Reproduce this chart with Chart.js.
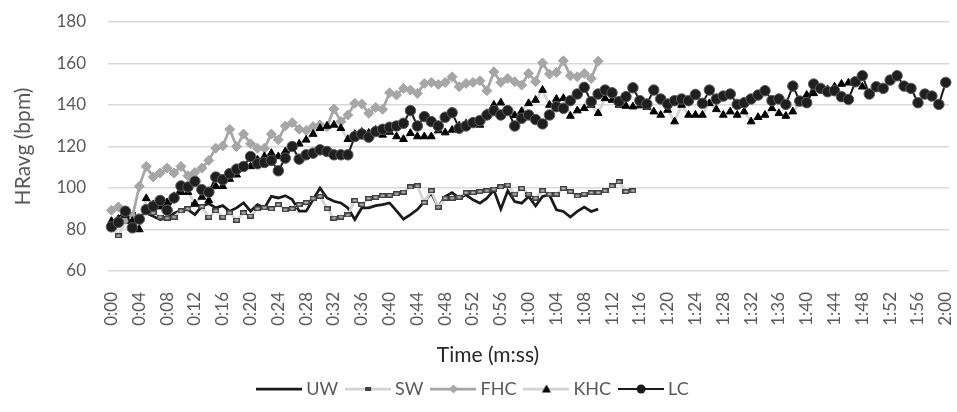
<!DOCTYPE html>
<html>
<head>
<meta charset="utf-8">
<script src="https://cdn.jsdelivr.net/npm/chart.js@4.4.1/dist/chart.umd.min.js"></script>
<style>
  html, body { margin: 0; padding: 0; background: #ffffff; }
  #wrap { width: 957px; height: 412px; }
</style>
</head>
<body>
<div id="wrap"><canvas id="chart" width="957" height="412"></canvas></div>
<script>
// Elapsed seconds 0..120, shown as m:ss
const seconds = Array.from({ length: 121 }, (_, i) => i);
const timeLabels = seconds.map(s => Math.floor(s / 60) + ':' + String(s % 60).padStart(2, '0'));

// Average heart rate (bpm), one value per second
const uw = [83, 86, 88, 84, 86, 88, 86.4, 84.8, 85.5, 87.7, 89.3, 89.6, 87.2, 91.2, 92.5, 90.4, 91.5, 88.8, 90.4, 92.8,
  88.8, 92, 90.4, 96, 95.2, 96.3, 94.4, 88.8, 88.8, 94.4, 100, 95.2, 93.6, 92.8, 90.4, 84.8, 90.4, 90.4, 91.5, 92,
  92.8, 89, 85, 87.2, 89.6, 93.5, 97.5, 90.8, 95.9, 97.8, 95.1, 96.7, 94.3, 92.7, 95.1, 99, 89.8, 98.7, 93.5, 92.7,
  95.9, 91.4, 95.9, 96.7, 89.5, 88.7, 86, 88.7, 90.8, 88.7, 89.8];

const sw = [82, 77, 84, 87, 85, 88, 88, 86, 85.5, 86, 89, 90, 92, 91, 86, 89, 86, 88, 84.5, 88,
  86.5, 90, 90.5, 90, 92, 89.5, 90, 92, 93, 95, 96, 90, 85.5, 86, 87, 94, 92, 95, 95.5, 96.3,
  96.5, 97.2, 98, 100.5, 101, 93, 98.7, 90.8, 95.1, 95.1, 95.6, 97.8, 97.8, 98.3, 98.7, 99.4, 100.6, 101.4, 97.1, 99.8,
  97.1, 95.1, 98.7, 97.1, 97.1, 99.8, 98.3, 96.2, 97.1, 97.8, 97.8, 98.7, 101, 103, 98.3, 98.7];

const fhc = [89.3, 90.9, 85, 86, 100.8, 110.4, 105.3, 107.2, 109.6, 107.2, 110.4, 105.9, 107.5, 109.6, 113.3, 119.2, 120.3, 128.3, 120, 126,
  121.3, 119.2, 119.2, 126, 123.2, 129.9, 131.5, 128.3, 127.7, 129.6, 130.4, 129.6, 138.1, 132, 135.2, 140.8, 140.5, 136, 138.8, 137.9,
  145.9, 144.8, 148, 147.2, 145.6, 150.4, 150.9, 149.9, 150.9, 153.6, 148.8, 150.4, 150.9, 151.7, 146.9, 156, 150.9, 152.8, 151.2, 149.6,
  155.2, 151.2, 160.3, 154.9, 155.7, 161.3, 154.1, 153.6, 155.2, 152.8, 161.1];

const khc = [84, 85, 87, 84, 80, 95, 92, 91, 93, 96, 98, 98, 92.5, 95.7, 94, 100.8, 100.8, 104.3, 106.4, 110.4,
  110.4, 113.6, 115.2, 116.8, 115.2, 117.6, 120, 121.3, 123.2, 126, 128.8, 129.9, 130.4, 128.8, 123.5, 126, 127, 126.5, 128, 125.6,
  127, 124.8, 123.5, 126.4, 124.8, 124.8, 124.8, 127.7, 126.7, 128, 130, 131, 132, 130.4, 136, 140, 141.1, 137, 135, 137,
  140.8, 142.4, 147.2, 140, 142.9, 143.2, 134.7, 137.3, 138.4, 140, 136, 143.2, 142.4, 140, 139.5, 139.2, 139.7, 139, 136.8, 135.2,
  137.6, 132, 140, 135.2, 135.2, 135.2, 140.8, 137.9, 135.2, 136.8, 135.2, 136.8, 132, 134.1, 135.2, 138.4, 136, 134.7, 136.8, 140.8,
  144.8, 145.6, 148, 147.5, 148.8, 150.1, 150.7, 151, 148.8, 145.6];

const lc = [81.3, 83.5, 88.8, 80.8, 85, 89.6, 91.2, 94, 89.3, 95.2, 101, 100.5, 103.2, 99.2, 98, 105.3, 104, 106.9, 109.1, 110.4,
  115.2, 111.7, 112.3, 113.3, 108.3, 114.4, 120, 113.9, 116, 116.8, 118.4, 117.6, 116, 116, 116, 124.8, 126, 124.5, 127.2, 128.3,
  129.3, 129.9, 131.2, 137.3, 129.9, 134.4, 132, 129.9, 134.1, 136.3, 128.8, 129.9, 131.5, 132.5, 135.2, 137.3, 135.2, 137.3, 129.9, 133.6,
  135.2, 133, 130.9, 135.2, 139.2, 138.4, 142.1, 145.3, 148.5, 141.6, 145.3, 147.2, 145.9, 141.6, 144, 148.3, 142.1, 140.5, 147.2, 142.9,
  140.5, 142.1, 142.9, 142.1, 145.1, 140.8, 147.2, 142.9, 144.3, 145.3, 140.3, 141.1, 142.9, 144.8, 146.9, 142.1, 142.9, 140.3, 149.1, 141.9,
  141.1, 150.1, 148, 146.4, 146.9, 144, 142.7, 151.2, 154.1, 145.3, 148.8, 148, 152, 154.1, 149.1, 148, 141.1, 145.3, 144.3, 140.3,
  150.9];

const seriesNames = ['UW', 'SW', 'FHC', 'KHC', 'LC'];
const yTicks = [60, 80, 100, 120, 140, 160, 180];
const xTitle = 'Time (m:ss)';
const yTitle = 'HRavg (bpm)';

const FONT = 'Lato, "Open Sans", sans-serif';
const TEXT_GREY = '#595959';

// Small flat dash used as the SW marker
function dashMarker() {
  const c = document.createElement('canvas');
  c.width = 7; c.height = 5;
  const g = c.getContext('2d');
  g.fillStyle = '#404040';
  g.fillRect(0, 0, 7, 5);
  g.fillStyle = '#bfbfbf';
  g.fillRect(1.5, 1.5, 4, 2);
  return c;
}

// Legend swatch: a short line with the series marker in the middle
function legendSwatch(ds) {
  const W = 46, H = 14;
  const c = document.createElement('canvas');
  c.width = W; c.height = H;
  const g = c.getContext('2d');
  const cx = W / 2, cy = H / 2;
  g.strokeStyle = ds.borderColor;
  g.lineWidth = ds.borderWidth;
  g.beginPath(); g.moveTo(0, cy); g.lineTo(W, cy); g.stroke();
  const r = 4.5;
  if (ds.label === 'SW') {
    g.fillStyle = '#404040';
    g.fillRect(cx - 3, cy - 2, 6, 4);
  } else if (ds.label === 'FHC') {
    g.fillStyle = '#a6a6a6';
    g.beginPath(); g.moveTo(cx, cy - r); g.lineTo(cx + r, cy); g.lineTo(cx, cy + r); g.lineTo(cx - r, cy); g.closePath(); g.fill();
  } else if (ds.label === 'KHC') {
    g.fillStyle = '#000000';
    g.beginPath(); g.moveTo(cx, cy - r); g.lineTo(cx + r, cy + r * 0.75); g.lineTo(cx - r, cy + r * 0.75); g.closePath(); g.fill();
  } else if (ds.label === 'LC') {
    g.fillStyle = '#1a1a1a';
    g.beginPath(); g.arc(cx, cy, r, 0, Math.PI * 2); g.fill();
  }
  return c;
}

// Horizontal axis title, centred on the whole canvas like the legend
const xTitlePlugin = {
  id: 'xTitle',
  afterDraw(chart) {
    const ctx = chart.ctx;
    ctx.save();
    ctx.font = '21px ' + FONT;
    ctx.fillStyle = '#262626';
    ctx.textAlign = 'center';
    ctx.textBaseline = 'middle';
    ctx.fillText(xTitle, 488, 355);
    ctx.restore();
  }
};

const datasets = [
  { label: seriesNames[0], data: uw, borderColor: '#1a1a1a', borderWidth: 2.75, pointRadius: 0,
    pointBackgroundColor: '#1a1a1a', pointBorderColor: '#1a1a1a', order: 4 },
  { label: seriesNames[1], data: sw, borderColor: '#d4d4d4', borderWidth: 2.75, pointStyle: dashMarker(), pointRadius: 3,
    pointBackgroundColor: '#bfbfbf', pointBorderColor: '#404040', order: 3 },
  { label: seriesNames[2], data: fhc, borderColor: '#a6a6a6', borderWidth: 2.75, pointStyle: 'rectRot', pointRadius: 5,
    pointBackgroundColor: '#a6a6a6', pointBorderColor: '#a6a6a6', pointBorderWidth: 1, order: 2 },
  { label: seriesNames[3], data: khc, borderColor: '#d4d4d4', borderWidth: 2.75, pointStyle: 'triangle', pointRadius: 4.5,
    pointBackgroundColor: '#000000', pointBorderColor: '#000000', pointBorderWidth: 1, order: 1 },
  { label: seriesNames[4], data: lc, borderColor: '#1a1a1a', borderWidth: 2, pointStyle: 'circle', pointRadius: 5.25,
    pointBackgroundColor: '#1f1f1f', pointBorderColor: '#5a5a5a', pointBorderWidth: 1, order: 0 }
];

new Chart(document.getElementById('chart'), {
  type: 'line',
  data: { labels: timeLabels, datasets },
  plugins: [xTitlePlugin],
  options: {
    responsive: false,
    animation: false,
    devicePixelRatio: 1,
    layout: { padding: { top: 22, right: 7, left: 0, bottom: 4 } },
    elements: { line: { tension: 0 }, point: { hoverRadius: 5 } },
    plugins: {
      tooltip: { enabled: false },
      legend: {
        position: 'bottom',
        labels: {
          usePointStyle: true,
          pointStyleWidth: 36,
          boxHeight: 12,
          padding: 12,
          color: TEXT_GREY,
          font: { family: FONT, size: 18 },
          sort: (a, b) => a.datasetIndex - b.datasetIndex,
          generateLabels: chart => chart.data.datasets.map((ds, i) => ({
            text: ds.label,
            datasetIndex: i,
            pointStyle: legendSwatch(ds),
            fillStyle: ds.borderColor,
            strokeStyle: ds.borderColor,
            lineWidth: 0,
            hidden: false,
            fontColor: TEXT_GREY
          }))
        }
      }
    },
    scales: {
      x: {
        offset: true,
        grid: { display: false },
        border: { display: false },
        ticks: {
          autoSkip: false,
          minRotation: 90,
          maxRotation: 90,
          padding: 13,
          color: TEXT_GREY,
          font: { family: FONT, size: 17 },
          callback: (v, i) => (i % 4 === 0 ? timeLabels[i] : null)
        },
        afterFit: s => { s.height = 97; s.paddingLeft = 0; s.paddingRight = 0; }
      },
      y: {
        min: yTicks[0],
        max: yTicks[yTicks.length - 1],
        afterBuildTicks: s => { s.ticks = yTicks.map(v => ({ value: v })); },
        grid: { color: '#d9d9d9', lineWidth: 1.5, drawTicks: false },
        border: { display: false },
        ticks: { color: TEXT_GREY, font: { family: FONT, size: 17 }, padding: 22 },
        title: { display: true, text: yTitle, color: TEXT_GREY, font: { family: FONT, size: 21 }, padding: { top: 11, bottom: 0 } },
        afterFit: s => { s.width = 108; s.paddingTop = 0; s.paddingBottom = 0; }
      }
    }
  }
});
</script>
</body>
</html>
